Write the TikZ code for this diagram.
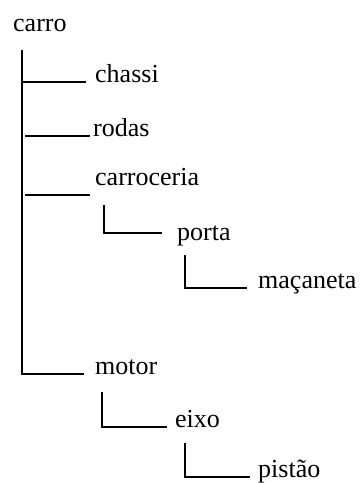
\documentclass[tikz,border=0pt]{standalone}
\usepackage{fontspec}
\setmainfont{Liberation Serif}
\begin{document}
\begin{tikzpicture}[x=1pt,y=-1pt,
  part/.style={anchor=base west, inner sep=0pt, font=\fontsize{26}{30}\selectfont},
  branch/.style={line width=1.8pt, line join=miter}]
\useasboundingbox (0,0) rectangle (363,483);

% parts of the car
\node[part] (carro)      at (13,31)   {carro};
\node[part] (chassi)     at (95,82)   {chassi};
\node[part] (rodas)      at (93,136)  {rodas};
\node[part] (carroceria) at (95,185)  {carroceria};
\node[part] (porta)      at (177,240) {porta};
\node[part] (macaneta)   at (258,288) {maçaneta};
\node[part] (motor)      at (95,374)  {motor};
\node[part] (eixo)       at (175,427) {eixo};
\node[part] (pistao)     at (258,477) {pistão};

% branch end points
\coordinate (trunkTop)   at (22,50);
\coordinate (motorEnd)   at (84,374);
\coordinate (chassiBeg)  at (22,82);
\coordinate (chassiEnd)  at (86,82);
\coordinate (rodasBeg)   at (25,136);
\coordinate (rodasEnd)   at (90,136);
\coordinate (carrBeg)    at (25,195);
\coordinate (carrEnd)    at (90,195);
\coordinate (portaTop)   at (104,205);
\coordinate (portaEnd)   at (162,233);
\coordinate (macTop)     at (185,255);
\coordinate (macEnd)     at (247,288);
\coordinate (eixoTop)    at (102,392);
\coordinate (eixoEnd)    at (167,427);
\coordinate (pistaoTop)  at (185,443);
\coordinate (pistaoEnd)  at (250,477);

% tree branches
\draw[branch] (trunkTop) |- (motorEnd);
\draw[branch] (chassiBeg) -- (chassiEnd);
\draw[branch] (rodasBeg) -- (rodasEnd);
\draw[branch] (carrBeg) -- (carrEnd);
\draw[branch] (portaTop) |- (portaEnd);
\draw[branch] (macTop) |- (macEnd);
\draw[branch] (eixoTop) |- (eixoEnd);
\draw[branch] (pistaoTop) |- (pistaoEnd);
\end{tikzpicture}
\end{document}
